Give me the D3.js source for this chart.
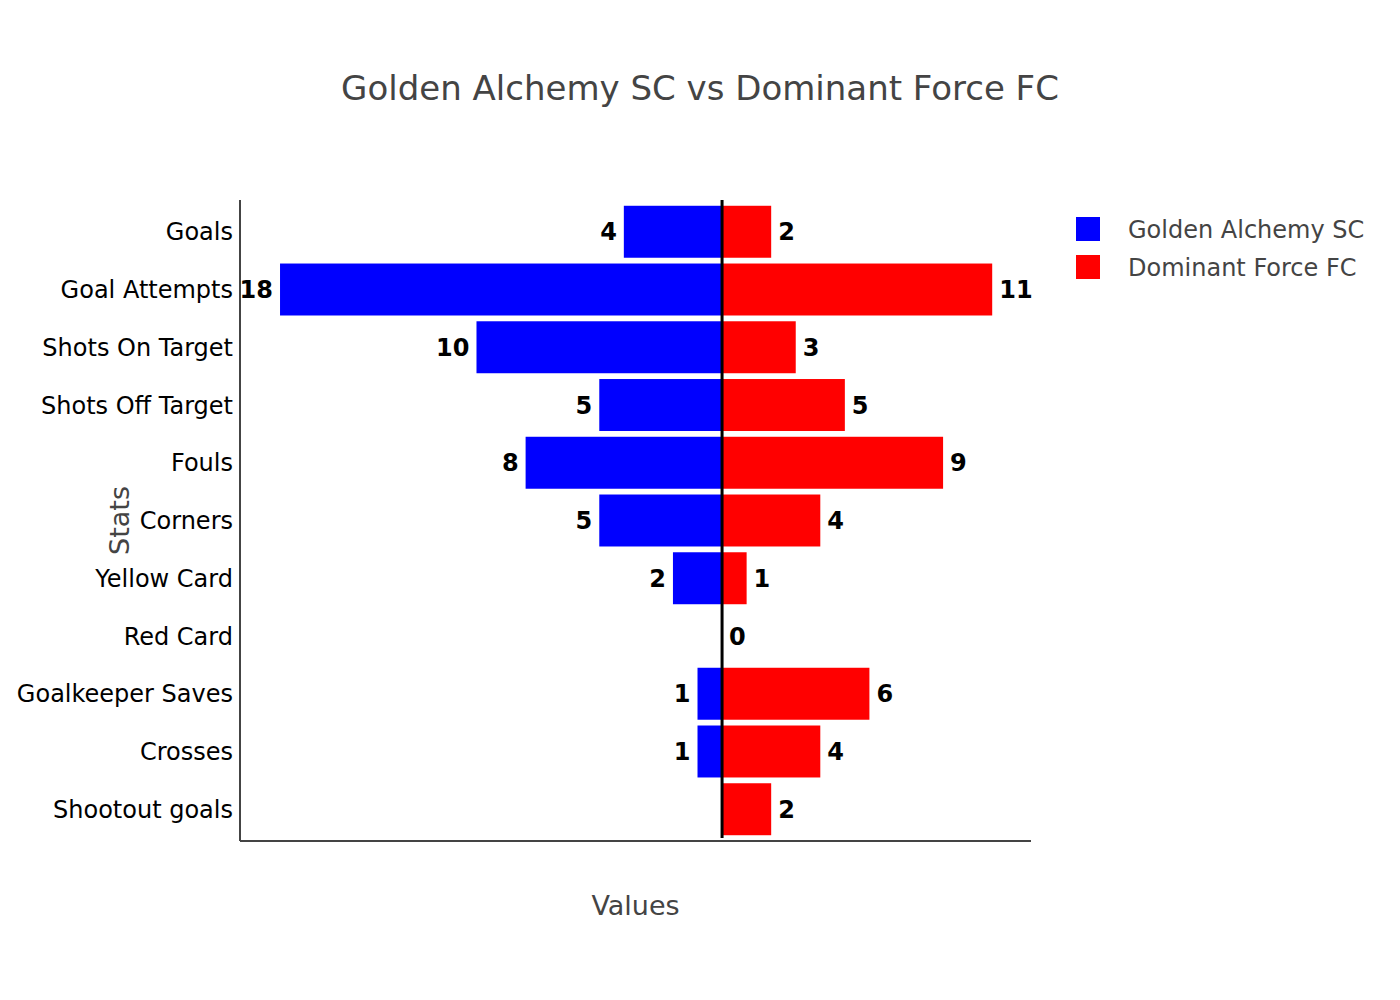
<!DOCTYPE html>
<html>
<head>
<meta charset="utf-8">
<script src="https://cdn.jsdelivr.net/npm/d3@7"></script>
<style>
  body { margin: 0; background: #fff; }
  svg { font-family: "DejaVu Sans", Verdana, sans-serif; }
</style>
</head>
<body>
<svg class="chart" width="1400" height="1000"></svg>
<script>
// stats and values
var stats = ["Goals", "Goal Attempts", "Shots On Target", "Shots Off Target", "Fouls",
    "Corners", "Yellow Card", "Red Card", "Goalkeeper Saves", "Crosses", "Shootout goals"];
var teams = ["Golden Alchemy SC", "Dominant Force FC"];
var golden = [4, 18, 10, 5, 8, 5, 2, 0, 1, 1, 0];
var dominant = [2, 11, 3, 5, 9, 4, 1, 0, 6, 4, 2];
var colors = ["#0000ff", "#ff0000"];

var svg = d3.select(".chart");
var plotLeft = 240, plotRight = 1031, plotTop = 200, plotBottom = 841;

var x = d3.scaleLinear().domain([-19.63, 12.58]).range([plotLeft, plotRight]);
var y = d3.scaleBand().domain(stats).range([plotTop, plotBottom]).padding(0.1);

// title
svg.append("text")
    .attr("x", 700).attr("y", 100)
    .attr("text-anchor", "middle")
    .attr("font-size", 34)
    .attr("fill", "#444")
    .text("Golden Alchemy SC vs Dominant Force FC");

// bars, Golden to the left of zero, Dominant to the right
var rows = stats.map((s, i) => ({ stat: s, g: golden[i], d: dominant[i] }));

svg.selectAll(".bar-g").data(rows.filter(r => r.g > 0)).enter()
    .append("rect")
    .attr("x", r => x(-r.g))
    .attr("y", r => y(r.stat))
    .attr("width", r => x(0) - x(-r.g))
    .attr("height", y.bandwidth())
    .attr("fill", colors[0]);

svg.selectAll(".bar-d").data(rows).enter()
    .append("rect")
    .attr("x", x(0))
    .attr("y", r => y(r.stat))
    .attr("width", r => x(r.d) - x(0))
    .attr("height", y.bandwidth())
    .attr("fill", colors[1]);

// value labels
svg.selectAll(".lab-g").data(rows.filter(r => r.g > 0)).enter()
    .append("text")
    .attr("x", r => x(-r.g) - 7)
    .attr("y", r => y(r.stat) + y.bandwidth() / 2)
    .attr("dy", "0.36em")
    .attr("text-anchor", "end")
    .attr("font-size", 24).attr("font-weight", "bold")
    .text(r => r.g);

svg.selectAll(".lab-d").data(rows).enter()
    .append("text")
    .attr("x", r => x(r.d) + 7)
    .attr("y", r => y(r.stat) + y.bandwidth() / 2)
    .attr("dy", "0.36em")
    .attr("font-size", 24).attr("font-weight", "bold")
    .text(r => r.d);

// zero line
svg.append("line")
    .attr("x1", x(0)).attr("x2", x(0))
    .attr("y1", plotTop).attr("y2", plotBottom - 3)
    .attr("stroke", "#000").attr("stroke-width", 3);

// axes
svg.append("line")
    .attr("x1", plotLeft).attr("x2", plotLeft).attr("y1", plotTop).attr("y2", plotBottom)
    .attr("stroke", "#444").attr("stroke-width", 2);
svg.append("line")
    .attr("x1", plotLeft).attr("x2", plotRight).attr("y1", plotBottom).attr("y2", plotBottom)
    .attr("stroke", "#444").attr("stroke-width", 2);

svg.selectAll(".cat").data(stats).enter()
    .append("text")
    .attr("x", plotLeft - 7)
    .attr("y", s => y(s) + y.bandwidth() / 2)
    .attr("dy", "0.36em")
    .attr("text-anchor", "end")
    .attr("font-size", 24)
    .attr("fill", "#000")
    .text(s => s);

svg.append("text")
    .attr("transform", "translate(129," + ((plotTop + plotBottom) / 2) + ") rotate(-90)")
    .attr("text-anchor", "middle")
    .attr("font-size", 27).attr("fill", "#444")
    .text("Stats");

svg.append("text")
    .attr("x", (plotLeft + plotRight) / 2).attr("y", 915)
    .attr("text-anchor", "middle")
    .attr("font-size", 27).attr("fill", "#444")
    .text("Values");

// legend
var legend = svg.selectAll(".leg").data(teams).enter()
    .append("g")
    .attr("transform", (t, i) => "translate(1076," + (217 + i * 38) + ")");
legend.append("rect").attr("width", 24).attr("height", 24).attr("fill", (t, i) => colors[i]);
legend.append("text")
    .attr("x", 52).attr("y", 12).attr("dy", "0.36em")
    .attr("font-size", 24).attr("fill", "#444")
    .text(t => t);
</script>
</body>
</html>
